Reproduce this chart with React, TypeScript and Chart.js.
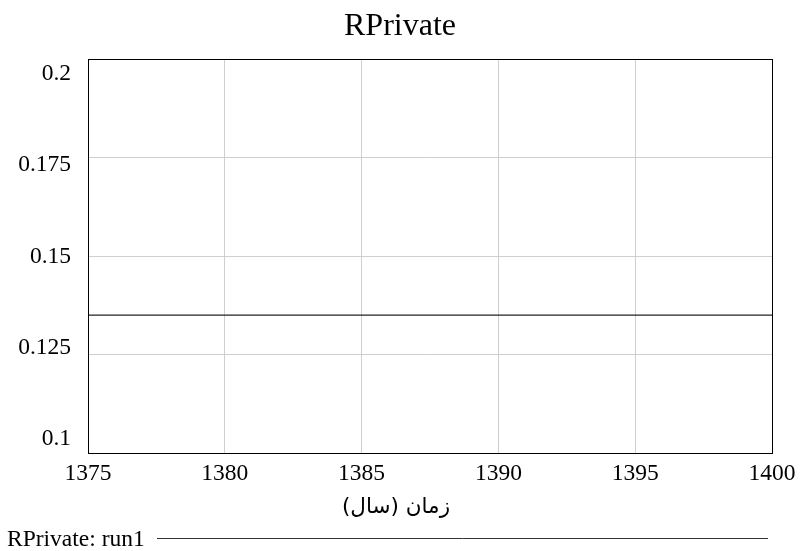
import React, { useEffect, useRef } from "react";
import { Chart, registerables } from "chart.js";

Chart.register(...registerables);

const chartTitle = "RPrivate";
const seriesLabel = "RPrivate: run1";
const xAxisTitle = "\u200Fزمان (سال)\u200F";
const years = [1375, 1380, 1385, 1390, 1395, 1400];
const rPrivate = [0.135, 0.135, 0.135, 0.135, 0.135, 0.135];
const yTicks = [0.1, 0.125, 0.15, 0.175, 0.2];
const xMin = 1375;
const xMax = 1400;
const yMin = 0.1;
const yMax = 0.2;

const SERIF = '"Liberation Serif", "Times New Roman", serif';

export default function App() {
  const ref = useRef<HTMLCanvasElement | null>(null);

  useEffect(() => {
    if (!ref.current) return;

    const framePlugin = {
      id: "frameAndLabels",
      afterDraw(chart: any) {
        const { ctx, chartArea } = chart;
        const { left, right, top, bottom } = chartArea;
        const ys = chart.scales.y;
        ctx.save();
        // frame
        ctx.strokeStyle = "#000";
        ctx.lineWidth = 1;
        ctx.strokeRect(Math.round(left) + 0.5, Math.round(top) + 0.5, Math.round(right - left), Math.round(bottom - top));
        // y labels, spread evenly between top and bottom insets
        ctx.fillStyle = "#000";
        ctx.font = `23.5px ${SERIF}`;
        ctx.textAlign = "right";
        ctx.textBaseline = "middle";
        const labelTop = top + 15;
        const labelBottom = bottom - 14;
        yTicks.forEach((v) => {
          const frac = (ys.getPixelForValue(v) - top) / (bottom - top);
          const y = labelTop + (labelBottom - labelTop) * frac;
          ctx.fillText(String(v), left - 17, y);
        });
        // x axis title
        ctx.textAlign = "center";
        ctx.font = `21.5px "DejaVu Sans", sans-serif`;
        ctx.fillText(xAxisTitle, 396, 507);
        // legend
        ctx.font = `23.5px ${SERIF}`;
        ctx.textAlign = "left";
        ctx.fillText(seriesLabel, 7, 540);
        ctx.strokeStyle = "#333";
        ctx.beginPath();
        ctx.moveTo(157, 538.5);
        ctx.lineTo(768, 538.5);
        ctx.stroke();
        ctx.restore();
      },
    };

    const chart = new Chart(ref.current, {
      type: "line",
      data: {
        datasets: [
          {
            label: seriesLabel,
            data: years.map((x, i) => ({ x, y: rPrivate[i] })),
            borderColor: "#222",
            borderWidth: 1.2,
            pointRadius: 0,
            fill: false,
          },
        ],
      },
      options: {
        responsive: false,
        animation: false,
        layout: { padding: 0 },
        plugins: {
          legend: { display: false },
          tooltip: { enabled: false },
          title: {
            display: true,
            text: chartTitle,
            color: "#000",
            font: { family: SERIF, size: 32, weight: "normal" },
            padding: { top: 7, bottom: 13.6 },
          },
        },
        scales: {
          x: {
            type: "linear",
            min: xMin,
            max: xMax,
            afterFit: (s: any) => {
              s.height = 98;
              s.paddingLeft = 0;
              s.paddingRight = 0;
            },
            ticks: {
              stepSize: 5,
              color: "#000",
              padding: 7,
              maxRotation: 0,
              font: { family: SERIF, size: 23.5 },
              callback: (v: any) => String(v),
            },
            grid: { color: "#cfcfcf", drawTicks: false, lineWidth: 1 },
            border: { display: true, color: "#000" },
            title: { display: false },
          },
          y: {
            type: "linear",
            min: yMin,
            max: yMax,
            afterFit: (s: any) => {
              s.width = 88;
            },
            afterBuildTicks: (s: any) => {
              s.ticks = yTicks.map((v) => ({ value: v }));
            },
            ticks: { display: false },
            grid: { color: "#cfcfcf", drawTicks: false, lineWidth: 1 },
            border: { display: true, color: "#000" },
          },
          yRight: {
            type: "linear",
            position: "right",
            display: true,
            min: yMin,
            max: yMax,
            afterFit: (s: any) => {
              s.width = 28;
            },
            ticks: { display: false },
            grid: { display: false, drawTicks: false },
            border: { display: false },
          },
        },
      },
      plugins: [framePlugin],
    } as any);

    return () => chart.destroy();
  }, []);

  return (
    <div style={{ position: "absolute", left: 0, top: 0, width: 800, height: 551, background: "#fff" }}>
      <canvas ref={ref} width={800} height={551} style={{ display: "block" }} />
    </div>
  );
}
